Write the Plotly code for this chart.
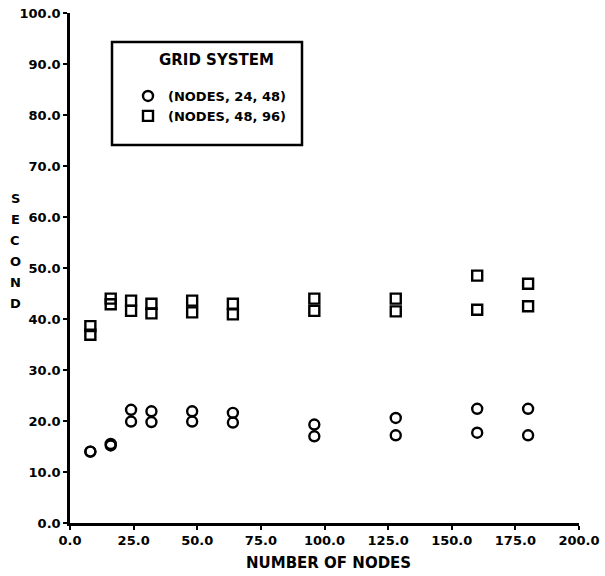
import plotly.graph_objects as go

nodes = [8, 8, 16, 16, 24, 24, 32, 32, 48, 48, 64, 64, 96, 96, 128, 128, 160, 160, 180, 180]
sec_24_48 = [14.0, 14.0, 15.5, 15.2, 22.2, 19.9, 21.9, 19.8, 21.9, 19.9, 21.6, 19.7,
             19.3, 17.0, 20.6, 17.2, 22.4, 17.7, 22.4, 17.2]
sec_48_96 = [38.6, 36.9, 44.0, 42.9, 43.6, 41.6, 43.0, 41.1, 43.6, 41.3, 43.0, 40.9,
             44.0, 41.6, 44.0, 41.5, 48.5, 41.8, 46.9, 42.5]

series_names = ["(NODES, 24, 48)", "(NODES, 48, 96)"]
legend_title = "GRID SYSTEM"
x_title = "NUMBER OF NODES"
y_title = "SECOND"
x_ticks = [0, 25, 50, 75, 100, 125, 150, 175, 200]
y_ticks = [0, 10, 20, 30, 40, 50, 60, 70, 80, 90, 100]

FONT = "DejaVu Sans, Arial, sans-serif"

fig = go.Figure()
fig.add_trace(go.Scatter(
    x=nodes, y=sec_24_48, mode="markers", name=series_names[0],
    marker=dict(symbol="circle-open", size=10, color="black", line=dict(width=2.4, color="black")),
))
fig.add_trace(go.Scatter(
    x=nodes, y=sec_48_96, mode="markers", name=series_names[1],
    marker=dict(symbol="square-open", size=10, color="black", line=dict(width=2.4, color="black")),
))

axis_common = dict(
    showgrid=False, zeroline=False, showline=True, linecolor="black", linewidth=2.5,
    ticks="outside", ticklen=4, tickwidth=2, tickcolor="black",
    tickfont=dict(family=FONT, size=13, color="black", weight="bold"),
    tickformat=".1f", automargin=False,
)

annotations = [dict(text=legend_title, xref="paper", yref="paper",
                    x=(216 - 70) / 509, y=(523 - 60) / 510, xanchor="center", yanchor="middle",
                    showarrow=False,
                    font=dict(family=FONT, size=15, color="black", weight="bold"))]
for i, ch in enumerate(y_title):
    annotations.append(dict(text=ch, xref="paper", yref="paper",
                            x=(15 - 70) / 509, y=(523 - (198 + 21 * i)) / 510,
                            xanchor="center", yanchor="middle", showarrow=False,
                            font=dict(family=FONT, size=13, color="black", weight="bold")))
annotations.append(dict(text=x_title, xref="paper", yref="paper",
                        x=(328 - 70) / 509, y=(523 - 563) / 510,
                        xanchor="center", yanchor="middle", showarrow=False,
                        font=dict(family=FONT, size=15, color="black", weight="bold")))

fig.update_layout(
    width=605, height=576,
    margin=dict(l=70, r=26, t=13, b=53),
    paper_bgcolor="white", plot_bgcolor="white",
    xaxis=dict(range=[0, 200], tickvals=x_ticks, **axis_common),
    yaxis=dict(range=[0, 100], tickvals=y_ticks, **axis_common),
    showlegend=True,
    legend=dict(
        x=(128 - 70) / 509, y=(523 - 81) / 510, xanchor="left", yanchor="top",
        bgcolor="rgba(0,0,0,0)", borderwidth=0,
        font=dict(family=FONT, size=13, color="black", weight="bold"),
        itemwidth=30,
    ),
    shapes=[dict(type="rect", xref="paper", yref="paper",
                 x0=(112 - 70) / 509, y0=(523 - 145) / 510,
                 x1=(302 - 70) / 509, y1=(523 - 42) / 510,
                 line=dict(color="black", width=2.5), fillcolor="rgba(0,0,0,0)")],
    annotations=annotations,
)

fig.write_html("out.html")
